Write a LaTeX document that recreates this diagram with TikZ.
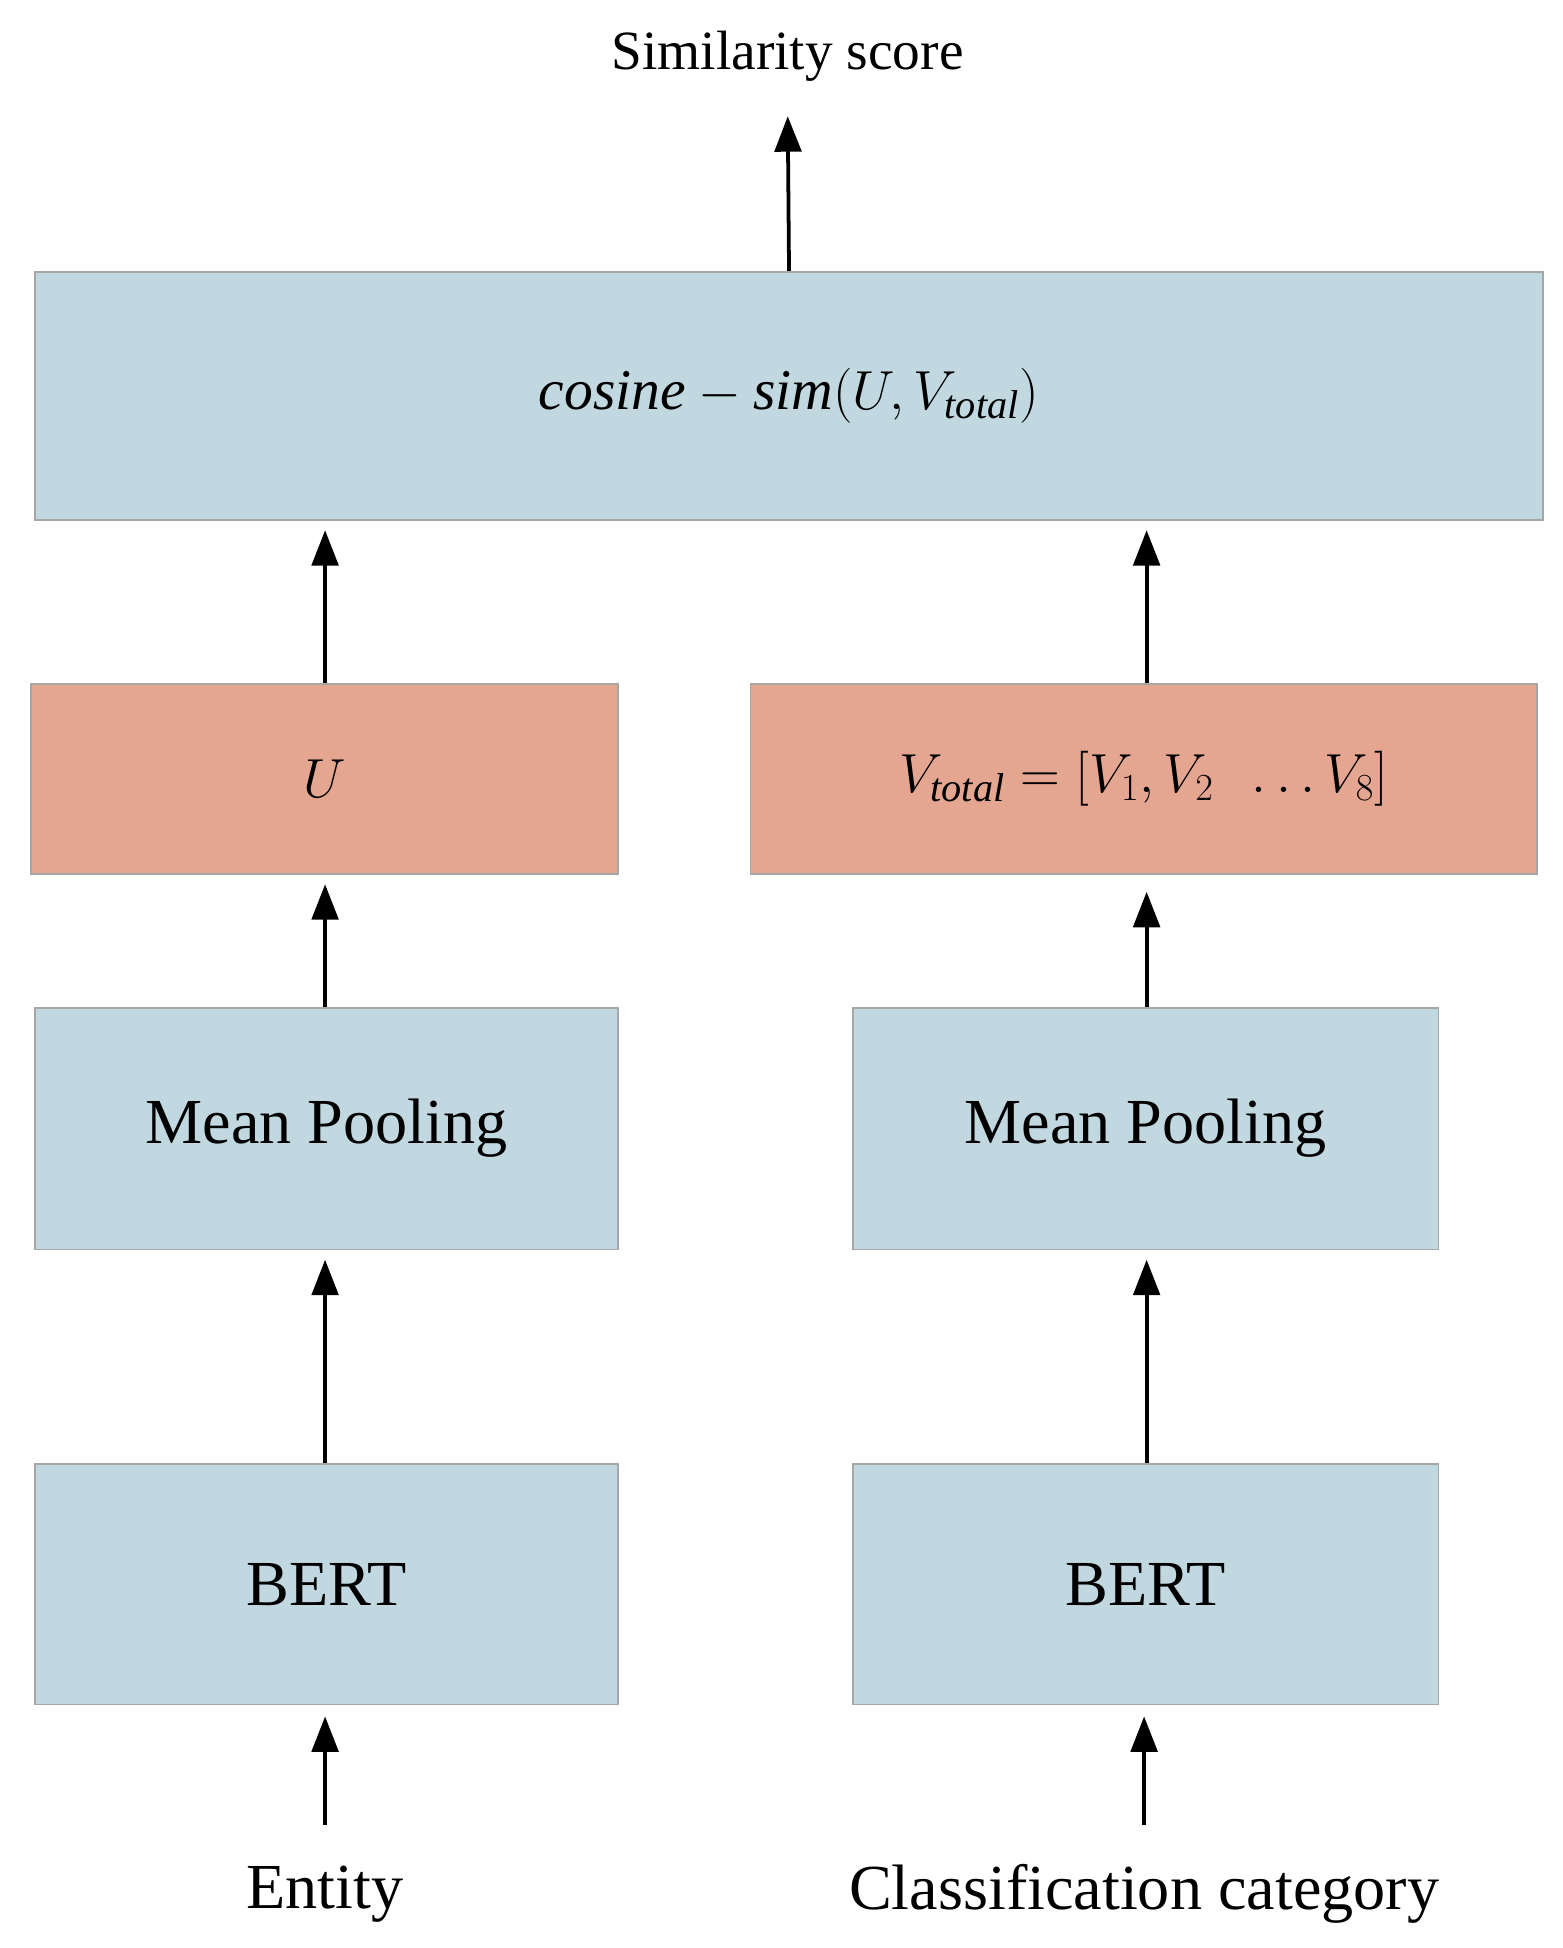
\documentclass[tikz,border=0pt]{standalone}
\usepackage{fontspec}
\setmainfont{Liberation Serif}
\usetikzlibrary{arrows.meta}
\begin{document}
\begin{tikzpicture}[x=0.02cm,y=-0.02cm,
  box/.style={draw=gray!70,line width=0.8pt,fill=#1,inner sep=0pt,anchor=north west},
  blue/.style={box=boxblue},
  red/.style={box=boxred},
  arr/.style={line width=1.7pt,-{Triangle[length=16pt,width=12pt]},shorten >=5pt},
  lbl/.style={font=\fontsize{29}{34}\selectfont},
  ]
\definecolor{boxblue}{RGB}{193,216,224}
\definecolor{boxred}{RGB}{229,166,145}
\useasboundingbox (0,0) rectangle (1240,1546);
\node[blue,minimum width=1197*0.02cm,minimum height=197*0.02cm] (top) at (27,215) {};
\node[font=\fontsize{26}{30}\selectfont] at (top.center) {$\mathit{cosine}-\mathit{sim}(U,V_{\mathit{total}})$};
\node[red,minimum width=466*0.02cm,minimum height=151*0.02cm] (U) at (24,542) {};
\node[font=\fontsize{26}{30}\selectfont] at (U.center) {$U$};
\node[red,minimum width=624*0.02cm,minimum height=151*0.02cm] (V) at (595,542) {};
\node[font=\fontsize{26}{30}\selectfont] at (V.center) {$V_{\mathit{total}}=[V_1,V_2\ \ \ldots V_8]$};
\node[blue,minimum width=463*0.02cm,minimum height=192*0.02cm] (mpL) at (27,799) {};
\node[lbl] at (mpL.center) {Mean Pooling};
\node[blue,minimum width=465*0.02cm,minimum height=192*0.02cm] (mpR) at (676,799) {};
\node[lbl] at (mpR.center) {Mean Pooling};
\node[blue,minimum width=463*0.02cm,minimum height=191*0.02cm] (bL) at (27,1161) {};
\node[lbl] at (bL.center) {BERT};
\node[blue,minimum width=465*0.02cm,minimum height=191*0.02cm] (bR) at (676,1161) {};
\node[lbl] at (bR.center) {BERT};
\node[font=\fontsize{25}{30}\selectfont] (sim) at (625,45) {Similarity score};
\node[lbl,inner sep=2pt] (ent) at (258,1503) {Entity};
\node[lbl,inner sep=2pt] (cls) at (908,1503) {Classification category};
\coordinate (c1) at (258,1448);
\coordinate (c2) at (908,1448);
\draw[arr] (c1) -- (c1 |- bL.south);
\draw[arr] (c2) -- (c2 |- bR.south);
\draw[arr] (258,1161) -- (258,991);
\draw[arr] (910,1161) -- (910,991);
\draw[arr] (258,799) -- (258,693);
\draw[arr] (910,799) -- (910,699);
\draw[arr] (258,542) -- (258,412);
\draw[arr] (910,542) -- (910,412);
\draw[arr,shorten >=12pt] (top.north) -- (sim.south);
\end{tikzpicture}
\end{document}
